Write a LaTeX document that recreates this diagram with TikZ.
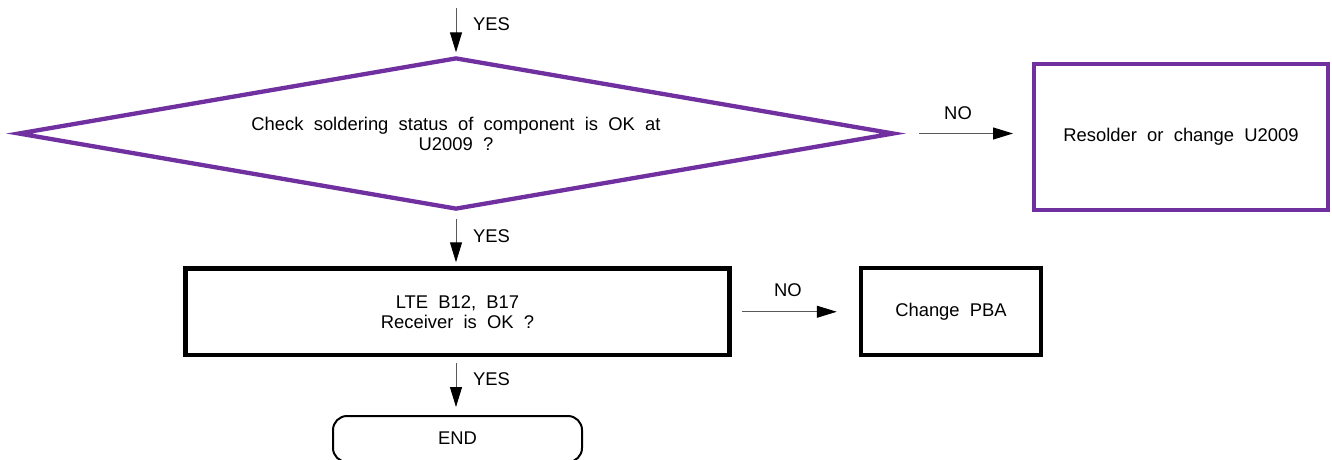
\documentclass[tikz,border=0pt]{standalone}
\usepackage{fontspec}
\setmainfont{Liberation Sans}[WordSpace=2]
\usetikzlibrary{shapes.geometric,arrows.meta}
\definecolor{flowpurple}{RGB}{112,48,160}
\begin{document}
\begin{tikzpicture}[x=1pt,y=-1pt,
  txt/.style={font=\fontsize{18.4}{20}\selectfont, align=center, text=black},
  lbl/.style={font=\fontsize{18.4}{20}\selectfont, inner sep=0pt, text=black},
  pbox/.style={draw=flowpurple, line width=4pt, rectangle, inner sep=0pt},
  bbox/.style={draw=black, line width=4.5pt, rectangle, inner sep=0pt},
  arr/.style={draw=black!65, line width=1pt, -{Triangle[length=20pt,width=12pt,color=black]}}
]
\useasboundingbox (0,0) rectangle (1332,459);

\node[shape=diamond, draw=flowpurple, line width=4.3pt, aspect=5.87,
      minimum width=876pt, minimum height=152pt, inner sep=0pt, txt]
      (d) at (456,133.5) {Check soldering status of component is OK at\\U2009 ?};
\node[pbox, minimum width=294pt, minimum height=146pt, txt] (res) at (1181,137) {Resolder or change U2009};
\node[bbox, minimum width=544pt, minimum height=86.5pt, txt] (lte) at (457.5,311.75) {LTE B12, B17\\Receiver is OK ?};
\node[bbox, minimum width=180pt, minimum height=87pt, txt] (chg) at (951,311.5) {Change PBA};
\node[draw=black, line width=2pt, rounded corners=14pt, minimum width=249pt, minimum height=46pt, inner sep=0pt, txt] (end) at (457.5,439) {\raisebox{2.5pt}{END}};

\coordinate (topin) at (456,8);
\draw[arr, shorten >=3pt] (topin) -- (d.north);
\draw[arr, shorten <=7pt, shorten >=4pt] (d.south) -- (d.south |- lte.north);
\draw[arr, shorten <=5.5pt, shorten >=8pt] (lte.south -| d.south) -- (end.north -| d.south);
\draw[arr, shorten <=23pt, shorten >=19pt] (d.east) -- (d.east -| res.west);
\draw[arr, shorten <=10pt, shorten >=22pt] (lte.east) -- (lte.east -| chg.west);

\node[lbl] (yes1) at (491.5,24.5) {YES};
\node[lbl] (yes2) at (491.5,236) {YES};
\node[lbl] (yes3) at (491.5,379) {YES};
\node[lbl] (no1) at (958,113) {NO};
\node[lbl] (no2) at (788,290) {NO};
\end{tikzpicture}
\end{document}
